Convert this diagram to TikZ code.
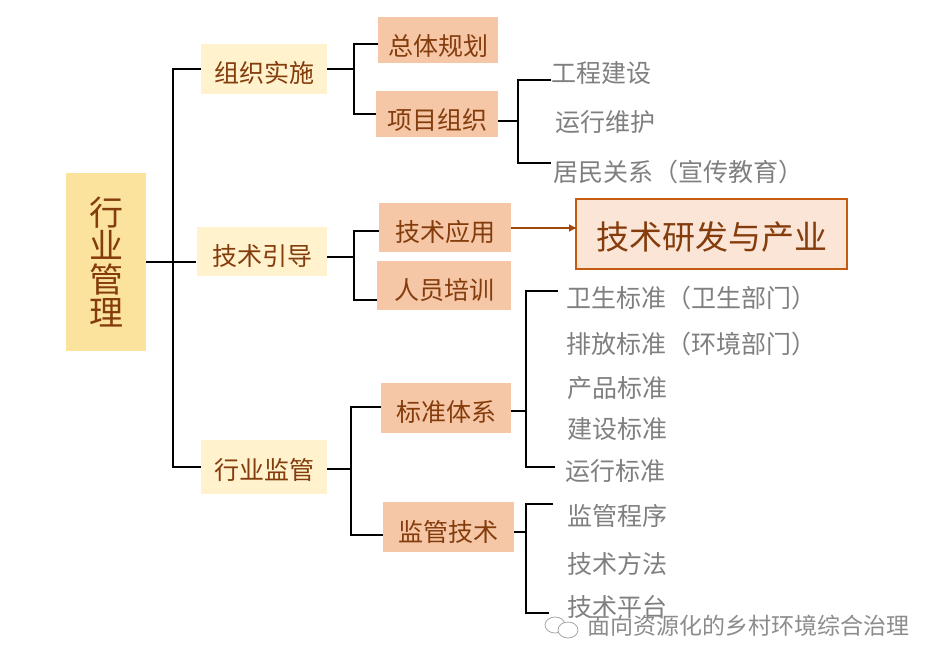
\documentclass[tikz,border=0pt]{standalone}
\usepackage{fontspec}
\setmainfont{Noto Sans CJK SC}
\usepackage{tikz}
\usetikzlibrary{arrows.meta}
\definecolor{rootfill}{HTML}{FBE29D}
\definecolor{midfill}{HTML}{FFF2CC}
\definecolor{subfill}{HTML}{F6C7A6}
\definecolor{bigfill}{HTML}{FBE5D6}
\definecolor{bigline}{HTML}{C55A11}
\definecolor{brown}{HTML}{843C0C}
\definecolor{leafgray}{HTML}{7F7F7F}
\newcommand{\lowtext}[2]{\raisebox{-#1pt}[\height][\depth]{#2}}
\tikzset{
  rootbox/.style={rectangle, fill=rootfill, text=brown, inner sep=0pt, align=center,
    font=\fontsize{34}{33.5}\selectfont},
  midbox/.style={rectangle, fill=midfill, text=brown, inner sep=0pt,
    font=\fontsize{25}{25}\selectfont},
  subbox/.style={rectangle, fill=subfill, text=brown, inner sep=0pt,
    font=\fontsize{25}{25}\selectfont},
  bigbox/.style={rectangle, draw=bigline, line width=1.8pt, fill=bigfill, text=brown, inner sep=0pt,
    font=\fontsize{33}{33}\selectfont},
  leaf/.style={text=leafgray, inner sep=0pt, font=\fontsize{25}{25}\selectfont},
  markname/.style={inner sep=0pt, font=\fontsize{23}{23}\selectfont},
  elbow/.style={draw=black, line width=2pt},
  bubble/.style={draw=gray!70, fill=white, line width=0.8pt}
}
\begin{document}
\begin{tikzpicture}[x=1pt, y=-1pt]
\useasboundingbox (0,0) rectangle (939,668);

\node[rootbox, minimum width=80pt, minimum height=178pt] (root) at (106,262) {行\\业\\管\\理};

\node[midbox, minimum width=126pt, minimum height=50pt] (zuzhi) at (264,69) {\lowtext{4}{组织实施}};
\node[midbox, minimum width=130pt, minimum height=49pt] (yindao) at (262,251.5) {\lowtext{5}{技术引导}};
\node[midbox, minimum width=126pt, minimum height=54pt] (jianguan) at (264,467) {\lowtext{3}{行业监管}};

\node[subbox, minimum width=120pt, minimum height=46pt] (guihua) at (438,40) {\lowtext{6}{总体规划}};
\node[subbox, minimum width=122pt, minimum height=46pt] (xiangmu) at (437,114) {\lowtext{6}{项目组织}};
\node[subbox, minimum width=132pt, minimum height=49pt] (yingyong) at (445,227.5) {\lowtext{4}{技术应用}};
\node[subbox, minimum width=134pt, minimum height=49pt] (peixun) at (444,285.5) {\lowtext{4}{人员培训}};
\node[subbox, minimum width=130pt, minimum height=50pt] (biaozhun) at (446,408) {\lowtext{4}{标准体系}};
\node[subbox, minimum width=131pt, minimum height=50pt] (jstech) at (448.5,527) {\lowtext{5}{监管技术}};

\node[bigbox, minimum width=271pt, minimum height=70pt] (yanfa) at (711.5,234) {\lowtext{3}{技术研发与产业}};

\node[leaf, anchor=west] (gongcheng) at (551,73.5) {工程建设};
\node[leaf, anchor=west] (yunxing) at (555,122) {运行维护};
\node[leaf, anchor=west] (jumin) at (553,172) {居民关系（宣传教育）};
\node[leaf, anchor=west] (weisheng) at (566,297.5) {卫生标准（卫生部门）};
\node[leaf, anchor=west] (paifang) at (566,343.5) {排放标准（环境部门）};
\node[leaf, anchor=west] (chanpin) at (567,388) {产品标准};
\node[leaf, anchor=west] (jianshe) at (567,429.5) {建设标准};
\node[leaf, anchor=west] (yxbz) at (565.5,471) {运行标准};
\node[leaf, anchor=west] (chengxu) at (567,515.5) {监管程序};
\node[leaf, anchor=west] (fangfa) at (567,564) {技术方法};
\node[leaf, anchor=west] (pingtai) at (567,607) {技术平台};

\coordinate (j0) at (173,262);
\coordinate (j0b) at (196,262);
\coordinate (j1) at (354,69);
\coordinate (j2) at (518,121);
\coordinate (j3) at (354,257);
\coordinate (j4) at (526,411);
\coordinate (j5) at (351,469);
\coordinate (j6) at (526,532);
\coordinate (e1) at (378,44);
\coordinate (e2) at (376,114);
\coordinate (e3) at (551,80);
\coordinate (e4) at (551,163);
\coordinate (e5) at (379,231);
\coordinate (e6) at (377,300);
\coordinate (e7) at (381,407);
\coordinate (e8) at (383,535);
\coordinate (e9) at (558,291);
\coordinate (e10) at (555,467);
\coordinate (e11) at (553,504);
\coordinate (e12) at (549,613);
\coordinate (s1) at (327,69);
\coordinate (s2) at (498,121);
\coordinate (s3) at (327,257);
\coordinate (s4) at (511,411);
\coordinate (s5) at (327,469);
\coordinate (s6) at (514,532);
\coordinate (s7) at (201,467);
\coordinate (a1) at (511,228);
\coordinate (a2) at (577,228);

\draw[elbow] (root.east |- j0) -- (j0b);
\draw[elbow] (zuzhi.west) -| (j0) |- (s7);
\draw[elbow] (s1) -- (j1);
\draw[elbow] (e1) -| (j1) |- (e2);
\draw[elbow] (s2) -- (j2);
\draw[elbow] (e3) -| (j2) |- (e4);
\draw[elbow] (s3) -- (j3);
\draw[elbow] (e5) -| (j3) |- (e6);
\draw[elbow] (s4) -- (j4);
\draw[elbow] (e9) -| (j4) |- (e10);
\draw[elbow] (s5) -- (j5);
\draw[elbow] (e7) -| (j5) |- (e8);
\draw[elbow] (s6) -- (j6);
\draw[elbow] (e11) -| (j6) |- (e12);

\draw[draw=bigline!80!black, line width=1.5pt, -{Latex[length=8pt,width=8pt]}] (a1) -- (a2);

\draw[bubble] (555,625) ellipse (10pt and 8pt);
\draw[bubble] (568,630) ellipse (10pt and 8pt);
\node[markname, text=white] (markshade) at (749.5,627) {面向资源化的乡村环境综合治理};
\node[markname, text=gray!90] (markname) at (748.5,626) {面向资源化的乡村环境综合治理};

\end{tikzpicture}
\end{document}
